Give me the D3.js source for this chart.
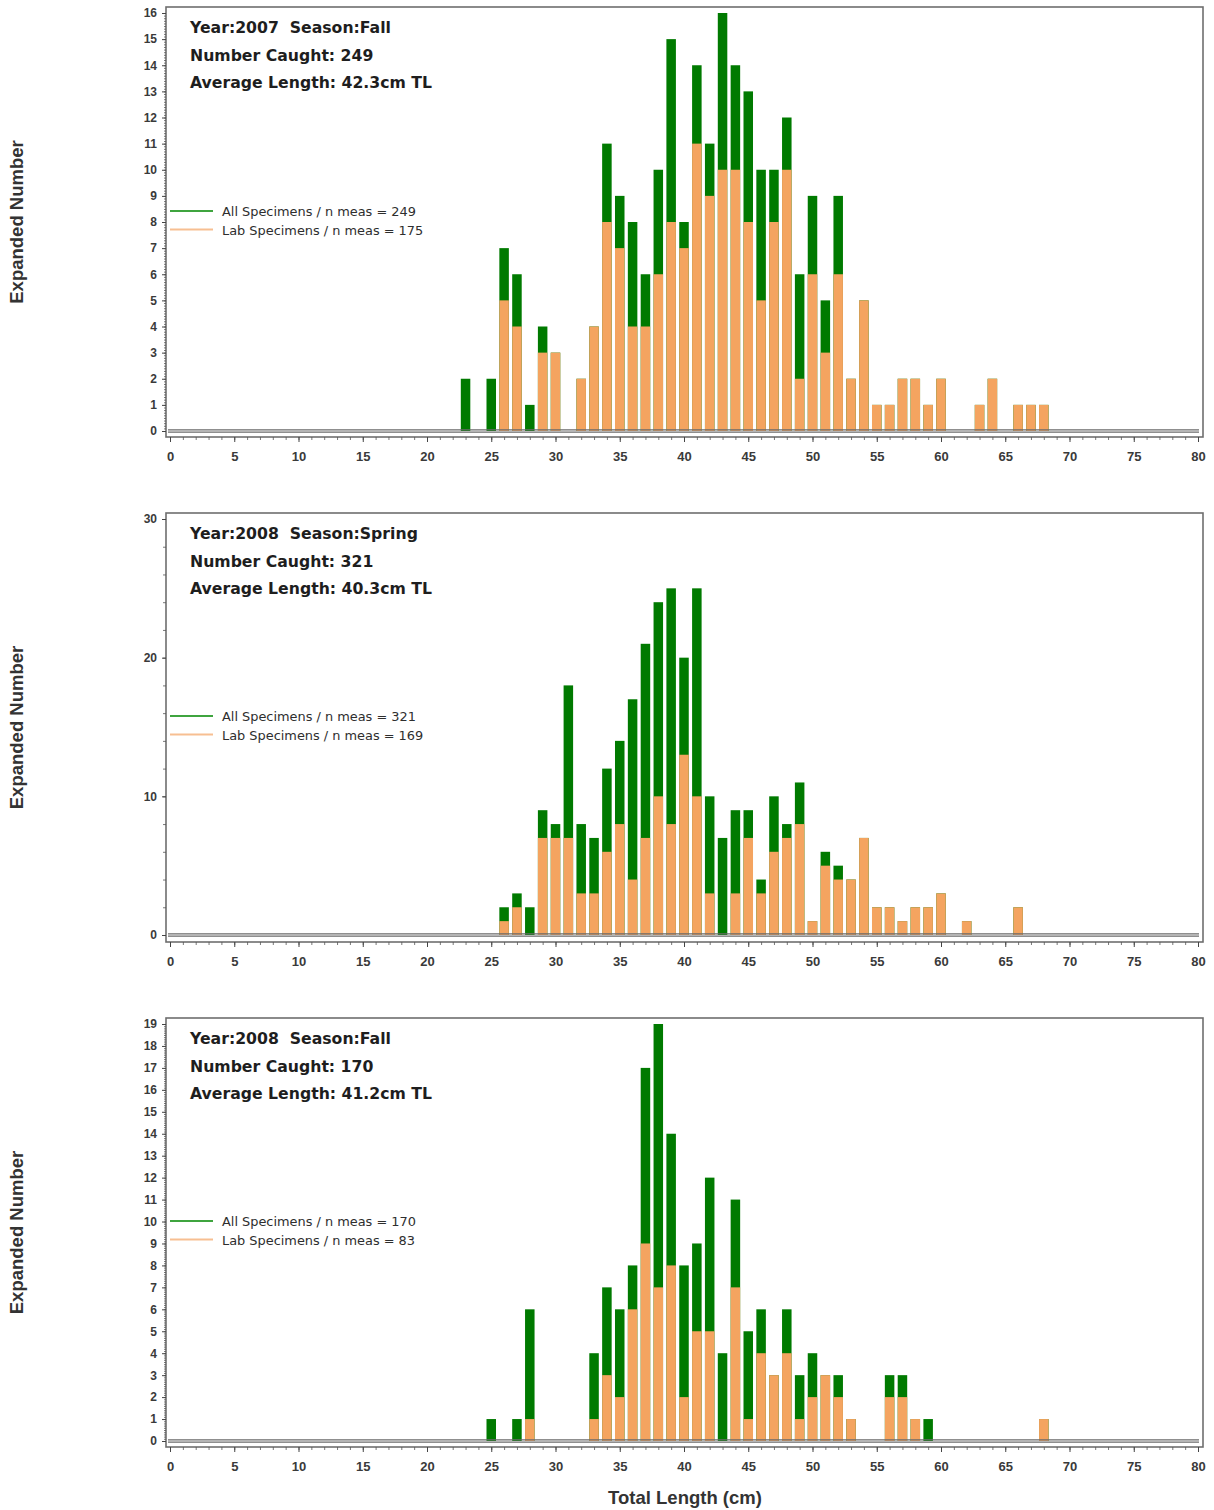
<!DOCTYPE html>
<html>
<head>
<meta charset="utf-8">
<script src="https://cdn.jsdelivr.net/npm/d3@7"></script>
<style>
  body { margin: 0; background: #fff; }
  text { font-family: "Liberation Sans", Arial, sans-serif; }
</style>
</head>
<body>
<svg id="chart" width="1214" height="1510"></svg>
<script>
// ---- Length-frequency data (total length in cm, counts per 1 cm bin) ----

// 2007 Fall
const lengths2007Fall = [23,25,26,27,28,29,30,32,33,34,35,36,37,38,39,40,41,42,43,44,45,46,47,48,49,50,51,52,53,54,55,56,57,58,59,60,63,64,66,67,68];
const all2007Fall     = [2,2,7,6,1,4,3,2,4,11,9,8,6,10,15,8,14,11,16,14,13,10,10,12,6,9,5,9,2,5,1,1,2,2,1,2,1,2,1,1,1];
const lab2007Fall     = [0,0,5,4,0,3,3,2,4,8,7,4,4,6,8,7,11,9,10,10,8,5,8,10,2,6,3,6,2,5,1,1,2,2,1,2,1,2,1,1,1];

// 2008 Spring
const lengths2008Spring = [26,27,28,29,30,31,32,33,34,35,36,37,38,39,40,41,42,43,44,45,46,47,48,49,50,51,52,53,54,55,56,57,58,59,60,62,66];
const all2008Spring     = [2,3,2,9,8,18,8,7,12,14,17,21,24,25,20,25,10,7,9,9,4,10,8,11,1,6,5,4,7,2,2,1,2,2,3,1,2];
const lab2008Spring     = [1,2,0,7,7,7,3,3,6,8,4,7,10,8,13,10,3,0,3,7,3,6,7,8,1,5,4,4,7,2,2,1,2,2,3,1,2];

// 2008 Fall
const lengths2008Fall = [25,27,28,33,34,35,36,37,38,39,40,41,42,43,44,45,46,47,48,49,50,51,52,53,56,57,58,59,68];
const all2008Fall     = [1,1,6,4,7,6,8,17,19,14,8,9,12,4,11,5,6,3,6,3,4,3,3,1,3,3,1,1,1];
const lab2008Fall     = [0,0,1,1,3,2,6,9,7,8,2,5,5,0,7,1,4,3,4,1,2,3,2,1,2,2,1,0,1];

// Panel captions and legend text
const captionLines = [
  ["Year:2007  Season:Fall",   "Number Caught: 249", "Average Length: 42.3cm TL"],
  ["Year:2008  Season:Spring", "Number Caught: 321", "Average Length: 40.3cm TL"],
  ["Year:2008  Season:Fall",   "Number Caught: 170", "Average Length: 41.2cm TL"]
];
const legendLabels = [
  ["All Specimens / n meas = 249", "Lab Specimens / n meas = 175"],
  ["All Specimens / n meas = 321", "Lab Specimens / n meas = 169"],
  ["All Specimens / n meas = 170", "Lab Specimens / n meas = 83"]
];

// Y-axis tick settings per panel
const yMaxes      = [16, 30, 19];
const yMajorSteps = [1, 10, 1];
const yMinorSteps = [0.1, 2, 0.1];

const xTickValues = d3.range(0, 81, 5);

// ---- Layout ----
const COLORS = { all: "#007a00", lab: "#f4a460", legendAll: "#3fa43f", legendLab: "#f7bf92", frame: "#6e6e6e", text: "#1e1e1e" };
const frameLeft = 166, frameRight = 1203;
const layout = [
  { frameTop: 7,    zeroY: 431,  frameBottom: 437,  yTop: 13,   legendY: 211 },
  { frameTop: 513,  zeroY: 935,  frameBottom: 942,  yTop: 519,  legendY: 716 },
  { frameTop: 1018, zeroY: 1441, frameBottom: 1447, yTop: 1024, legendY: 1221 }
];

const series = [
  { lengths: lengths2007Fall,   all: all2007Fall,   lab: lab2007Fall },
  { lengths: lengths2008Spring, all: all2008Spring, lab: lab2008Spring },
  { lengths: lengths2008Fall,   all: all2008Fall,   lab: lab2008Fall }
];

const svg = d3.select("#chart");
svg.append("rect").attr("width", 1214).attr("height", 1510).attr("fill", "#fff");

const x = d3.scaleLinear().domain([0, 80]).range([170, 1198]);
const barW = (x(1) - x(0)) * 0.74;

series.forEach((s, i) => {
  const L = layout[i];
  const g = svg.append("g");
  const y = d3.scaleLinear().domain([0, yMaxes[i]]).range([L.zeroY, L.yTop]);

  const rows = s.lengths.map((len, k) => ({ len, all: s.all[k], lab: s.lab[k] }));

  // All specimens (green, full height)
  g.selectAll("rect.all").data(rows).join("rect")
    .attr("class", "all")
    .attr("x", d => x(d.len) - barW / 2)
    .attr("width", barW)
    .attr("y", d => y(d.all))
    .attr("height", d => y(0) - y(d.all))
    .attr("fill", COLORS.all);

  // Lab specimens (orange, overlaid from the baseline)
  g.selectAll("rect.lab").data(rows.filter(d => d.lab > 0)).join("rect")
    .attr("class", "lab")
    .attr("x", d => x(d.len) - barW / 2)
    .attr("width", barW)
    .attr("y", d => y(d.lab))
    .attr("height", d => y(0) - y(d.lab))
    .attr("fill", COLORS.lab);

  // Zero reference line (double rule)
  [-1.2, 1.2].forEach(off => {
    g.append("line")
      .attr("x1", x(0) - 2).attr("x2", x(80) + 1)
      .attr("y1", y(0) + off).attr("y2", y(0) + off)
      .attr("stroke", "#6a6a6a").attr("stroke-width", 1.2);
  });

  // Frame
  g.append("rect")
    .attr("x", frameLeft).attr("y", L.frameTop)
    .attr("width", frameRight - frameLeft).attr("height", L.frameBottom - L.frameTop)
    .attr("fill", "none").attr("stroke", COLORS.frame).attr("stroke-width", 1.6);

  // Y axis: minor and major ticks
  const yMinorVals = d3.range(0, yMaxes[i] + 1e-9, yMinorSteps[i]);
  const yMajorVals = d3.range(0, yMaxes[i] + 1e-9, yMajorSteps[i]);
  const yMinorAxis = g.append("g").attr("transform", `translate(${frameLeft},0)`)
    .call(d3.axisLeft(y).tickValues(yMinorVals).tickSize(yMinorSteps[i] < 1 ? 2 : 3).tickFormat(""));
  yMinorAxis.select(".domain").remove();
  yMinorAxis.selectAll("line").attr("stroke", "#555").attr("stroke-width", 0.8);

  const yMajorAxis = g.append("g").attr("transform", `translate(${frameLeft},0)`)
    .call(d3.axisLeft(y).tickValues(yMajorVals).tickSize(4).tickPadding(5).tickFormat(d3.format("d")));
  yMajorAxis.select(".domain").remove();
  yMajorAxis.selectAll("line").attr("stroke", "#444");
  yMajorAxis.selectAll("text")
    .attr("font-size", 12).attr("font-weight", "bold").attr("fill", "#3a3a3a")
    .style("font-family", '"Liberation Sans", Arial, sans-serif');

  // X axis: minor and major ticks
  const xMinorAxis = g.append("g").attr("transform", `translate(0,${L.frameBottom})`)
    .call(d3.axisBottom(x).tickValues(d3.range(0, 81, 1)).tickSize(3).tickFormat(""));
  xMinorAxis.select(".domain").remove();
  xMinorAxis.selectAll("line").attr("stroke", "#555").attr("stroke-width", 0.8);

  const xMajorAxis = g.append("g").attr("transform", `translate(0,${L.frameBottom})`)
    .call(d3.axisBottom(x).tickValues(xTickValues).tickSize(5).tickPadding(10).tickFormat(d3.format("d")));
  xMajorAxis.select(".domain").remove();
  xMajorAxis.selectAll("line").attr("stroke", "#444");
  xMajorAxis.selectAll("text")
    .attr("font-size", 13).attr("font-weight", "bold").attr("fill", "#3a3a3a")
    .style("font-family", '"Liberation Sans", Arial, sans-serif');

  // Caption block
  captionLines[i].forEach((t, k) => {
    g.append("text")
      .attr("x", 190).attr("y", L.frameTop + 26 + k * 27.5)
      .attr("font-size", 15.7).attr("font-weight", "bold").attr("fill", COLORS.text)
      .style("font-family", '"DejaVu Sans", Verdana, sans-serif')
      .attr("xml:space", "preserve").style("white-space", "pre")
      .text(t);
  });

  // Legend
  const legendColors = [COLORS.legendAll, COLORS.legendLab];
  legendLabels[i].forEach((t, k) => {
    const ly = L.legendY + k * 18.5;
    g.append("line").attr("x1", 170).attr("x2", 213).attr("y1", ly).attr("y2", ly)
      .attr("stroke", legendColors[k]).attr("stroke-width", 2);
    g.append("text").attr("x", 222).attr("y", ly + 5)
      .attr("font-size", 12.9).attr("fill", "#2e2e2e")
      .style("font-family", '"DejaVu Sans", Verdana, sans-serif')
      .text(t);
  });

  // Y axis title
  const midY = (L.frameTop + L.frameBottom) / 2;
  g.append("text")
    .attr("transform", `translate(23,${midY}) rotate(-90)`)
    .attr("text-anchor", "middle")
    .attr("font-size", 18.5).attr("font-weight", "bold").attr("fill", "#333")
    .text("Expanded Number");
});

// X axis title
svg.append("text")
  .attr("x", 685).attr("y", 1504)
  .attr("text-anchor", "middle")
  .attr("font-size", 18.5).attr("font-weight", "bold").attr("fill", "#333")
  .text("Total Length (cm)");
</script>
</body>
</html>
